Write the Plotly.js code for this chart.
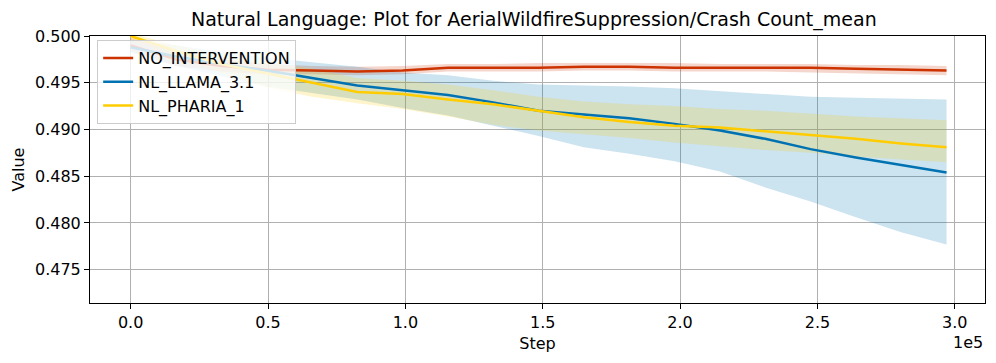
<!DOCTYPE html>
<html>
<head>
<meta charset="utf-8">
<script src="https://cdn.plot.ly/plotly-3.0.1.min.js"></script>
<style>
  html, body { margin: 0; padding: 0; background: #fff; }
  #grafico { width: 996px; height: 363px; }
</style>
</head>
<body>
<div id="grafico"></div>
<script>
// pasos de entrenamiento (eje x)
const pasos = [0, 16500, 33000, 49500, 66000, 82500, 99000, 115500, 132000, 148500,
  165000, 181500, 198000, 214500, 231000, 247500, 264000, 280500, 297000];

// NO_INTERVENTION
const rojoMedia = [0.4990, 0.4975, 0.4968, 0.4964, 0.4963, 0.4962, 0.4963, 0.4966, 0.4966, 0.4966,
  0.4967, 0.4967, 0.4966, 0.4966, 0.4966, 0.4966, 0.4965, 0.4964, 0.4963];
const rojoInf = [0.4984, 0.4968, 0.4962, 0.4959, 0.4959, 0.4958, 0.4959, 0.4962, 0.4962, 0.4962,
  0.4963, 0.4963, 0.4962, 0.4962, 0.4962, 0.4961, 0.4960, 0.4959, 0.4958];
const rojoSup = [0.4998, 0.4984, 0.4975, 0.4970, 0.4968, 0.4967, 0.4968, 0.4970, 0.4970, 0.4971,
  0.4971, 0.4971, 0.4971, 0.4970, 0.4970, 0.4970, 0.4969, 0.4969, 0.4968];

// NL_LLAMA_3.1
const azulMedia = [0.4988, 0.4978, 0.4970, 0.4963, 0.4955, 0.4947, 0.4942, 0.4937, 0.4929, 0.4920,
  0.4916, 0.4912, 0.4906, 0.4899, 0.4890, 0.4879, 0.4870, 0.4862, 0.4854];
const azulInf = [0.4982, 0.4968, 0.4957, 0.4946, 0.4939, 0.4932, 0.4923, 0.4915, 0.4904, 0.4893,
  0.4881, 0.4874, 0.4866, 0.4855, 0.4838, 0.4823, 0.4806, 0.4790, 0.4777];
const azulSup = [0.4996, 0.4990, 0.4983, 0.4977, 0.4972, 0.4967, 0.4961, 0.4958, 0.4952, 0.4948,
  0.4947, 0.4946, 0.4944, 0.4941, 0.4938, 0.4935, 0.4934, 0.4933, 0.4932];

// NL_PHARIA_1
const amarilloMedia = [0.5000, 0.4984, 0.4970, 0.4960, 0.4950, 0.4940, 0.4938, 0.4932, 0.4927, 0.4920,
  0.4913, 0.4908, 0.4904, 0.4902, 0.4898, 0.4894, 0.4890, 0.4885, 0.4881];
const amarilloInf = [0.4995, 0.4978, 0.4960, 0.4945, 0.4935, 0.4928, 0.4922, 0.4914, 0.4905, 0.4899,
  0.4895, 0.4891, 0.4886, 0.4882, 0.4878, 0.4875, 0.4871, 0.4868, 0.4865];
const amarilloSup = [0.5003, 0.4990, 0.4980, 0.4972, 0.4965, 0.4955, 0.4952, 0.4948, 0.4942, 0.4935,
  0.4930, 0.4927, 0.4925, 0.4922, 0.4920, 0.4917, 0.4914, 0.4912, 0.4910];

const ticksX = [0, 50000, 100000, 150000, 200000, 250000, 300000];
const etiquetasX = ["0.0", "0.5", "1.0", "1.5", "2.0", "2.5", "3.0"];
const ticksY = [0.475, 0.480, 0.485, 0.490, 0.495, 0.500];

const series = [
  { nombre: "NO_INTERVENTION", media: rojoMedia, inf: rojoInf, sup: rojoSup, color: "#CC3300", banda: "rgba(204,51,0,0.2)" },
  { nombre: "NL_LLAMA_3.1", media: azulMedia, inf: azulInf, sup: azulSup, color: "#0072B2", banda: "rgba(0,114,178,0.2)" },
  { nombre: "NL_PHARIA_1", media: amarilloMedia, inf: amarilloInf, sup: amarilloSup, color: "#FFCC00", banda: "rgba(255,204,0,0.2)" },
];

// bandas primero, lineas encima
const trazas = [];
series.forEach((s) => {
  trazas.push({
    x: pasos, y: s.inf, type: "scatter", mode: "lines",
    line: { width: 0, color: s.banda }, showlegend: false, hoverinfo: "skip",
  });
  trazas.push({
    x: pasos, y: s.sup, type: "scatter", mode: "lines", fill: "tonexty",
    fillcolor: s.banda, line: { width: 0, color: s.banda }, showlegend: false, hoverinfo: "skip",
  });
});
series.forEach((s) => {
  trazas.push({
    x: pasos, y: s.media, type: "scatter", mode: "lines", name: s.nombre,
    line: { color: s.color, width: 2.5 },
  });
});

const fuente = "DejaVu Sans, sans-serif";
const layout = {
  width: 996, height: 363,
  paper_bgcolor: "#fff", plot_bgcolor: "#fff",
  margin: { l: 90, r: 11, t: 36, b: 60 },
  font: { family: fuente, size: 16, color: "#000" },
  title: { text: "Natural Language: Plot for AerialWildfireSuppression/Crash Count_mean",
    font: { family: fuente, size: 19, color: "#000" }, x: 0.536, xanchor: "center",
    y: 0.948, yref: "container", yanchor: "middle" },
  xaxis: {
    range: [-14800, 311000],
    tickvals: ticksX, ticktext: etiquetasX,
    showgrid: true, gridcolor: "#b0b0b0", gridwidth: 1,
    zeroline: false, showline: true, mirror: true, linecolor: "#000", linewidth: 1,
    ticks: "outside", ticklen: 5, tickcolor: "#000",
    tickfont: { family: fuente, size: 16 },
    title: { text: "Step", font: { family: fuente, size: 16 }, standoff: 6 },
  },
  yaxis: {
    range: [0.47144, 0.5],
    tickvals: ticksY, tickformat: ".3f",
    showgrid: true, gridcolor: "#b0b0b0", gridwidth: 1,
    zeroline: false, showline: true, mirror: true, linecolor: "#000", linewidth: 1,
    ticks: "outside", ticklen: 5, tickcolor: "#000",
    tickfont: { family: fuente, size: 16 },
    title: { text: "Value", font: { family: fuente, size: 16 }, standoff: 6 },
  },
  legend: {
    x: 0.008, y: 0.985, xanchor: "left", yanchor: "top",
    traceorder: "normal",
    bgcolor: "rgba(255,255,255,0.8)", bordercolor: "#cccccc", borderwidth: 1,
    font: { family: fuente, size: 16, color: "#000" },
    tracegroupgap: 0,
  },
  annotations: [{
    text: "1e5", xref: "paper", yref: "paper", x: 1, y: -0.105,
    xanchor: "right", yanchor: "top", showarrow: false,
    font: { family: fuente, size: 16, color: "#000" },
  }],
};

Plotly.newPlot("grafico", trazas, layout, { displayModeBar: false, staticPlot: true });
</script>
</body>
</html>
